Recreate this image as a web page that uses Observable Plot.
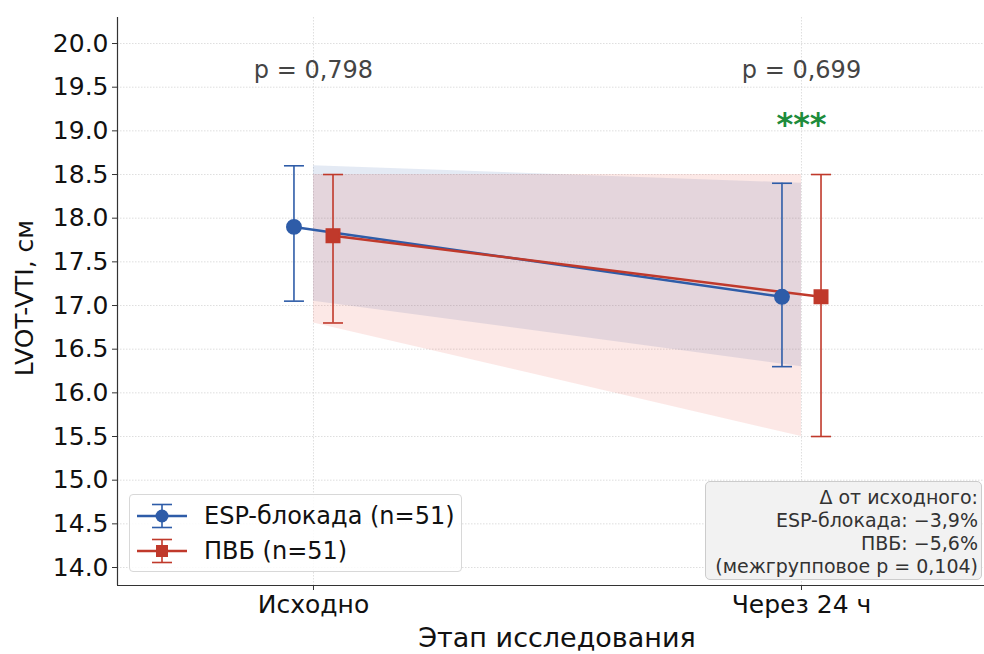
<!DOCTYPE html>
<html><head><meta charset="utf-8">
<script src="https://cdn.jsdelivr.net/npm/d3@7"></script>
<script src="https://cdn.jsdelivr.net/npm/@observablehq/plot@0.6"></script>
<style>
body{margin:0;background:#fff;font-family:"DejaVu Sans",sans-serif;}
#wrap{position:relative;width:984px;height:654px;overflow:hidden;}
#legend{position:absolute;left:129px;top:494px;width:333px;height:78px;border:1px solid #d8d8d8;border-radius:4px;background:rgba(255,255,255,0.85);box-sizing:border-box;}
.lrow{position:absolute;left:7px;height:30px;display:flex;align-items:center;font-size:24px;color:#111;white-space:nowrap;}
.lrow svg{margin-right:17px;}
#delta{position:absolute;left:705px;top:481px;width:277px;height:99px;background:#f2f2f2;border:1px solid #ccc;border-radius:5px;box-sizing:border-box;text-align:right;font-size:19px;line-height:23px;color:#333;padding:4px 3px 0 0;white-space:nowrap;}
</style></head><body><div id="wrap"></div>
<script>
const stages = ["Исходно", "Через 24 ч"];
const groups = ["ESP-блокада (n=51)", "ПВБ (n=51)"];
const espMean = [17.9, 17.1];
const espLo = [17.05, 16.3];
const espHi = [18.6, 18.4];
const pvbMean = [17.8, 17.1];
const pvbLo = [16.8, 15.5];
const pvbHi = [18.5, 18.5];
const pValues = ["p = 0,798", "p = 0,699"];
const pY = 19.69;
const sigMarks = ["", "***"];
const sigY = 19.07;
const yTicks = d3.range(14, 20.001, 0.5);
const deltaLines = ["Δ от исходного:", "ESP-блокада: −3,9%", "ПВБ: −5,6%", "(межгрупповое p = 0,104)"];
const xTitle = "Этап исследования";
const yTitle = "LVOT-VTI, см";

const BLUE = "#2e5ca8", RED = "#c0392b", GREEN = "#1e8c3c";
const off = 0.04;
const cap = 10 / 488;

const rows = (mean, lo, hi, g, o) => stages.map((s, i) => ({i, x: i + o, mean: mean[i], lo: lo[i], hi: hi[i], g}));
const esp = rows(espMean, espLo, espHi, groups[0], -off);
const pvb = rows(pvbMean, pvbLo, pvbHi, groups[1], off);

const W = 984, H = 654, mL = 117, mT = 17, mB = 69;
const xDom = [-0.4016, 1.375], yDom = [13.794, 20.298];

const grid = {stroke: "#d6d6d6", strokeWidth: 0.8, strokeDasharray: "1.5,1.5"};
const errMarks = (d, c) => [
  Plot.ruleX(d, {x: "x", y1: "lo", y2: "hi", stroke: c, strokeWidth: 1.6}),
  Plot.link(d, {x1: r => r.x - cap, x2: r => r.x + cap, y1: "hi", y2: "hi", stroke: c, strokeWidth: 1.6}),
  Plot.link(d, {x1: r => r.x - cap, x2: r => r.x + cap, y1: "lo", y2: "lo", stroke: c, strokeWidth: 1.6})
];

const plot = Plot.plot({
  width: W, height: H, marginLeft: mL, marginRight: 0, marginTop: mT, marginBottom: mB,
  style: {fontFamily: '"DejaVu Sans", sans-serif', background: "transparent", color: "#111"},
  x: {domain: xDom},
  y: {domain: yDom},
  marks: [
    Plot.ruleY(yTicks, grid),
    Plot.ruleX([0, 1], grid),
    Plot.area(esp, {x1: "i", y1: "lo", y2: "hi", fill: BLUE, fillOpacity: 0.13}),
    Plot.area(pvb, {x1: "i", y1: "lo", y2: "hi", fill: "#e74c3c", fillOpacity: 0.13}),
    ...errMarks(esp, BLUE),
    ...errMarks(pvb, RED),
    Plot.line(esp, {x: "x", y: "mean", stroke: BLUE, strokeWidth: 2.5}),
    Plot.line(pvb, {x: "x", y: "mean", stroke: RED, strokeWidth: 2.5}),
    Plot.dot(esp, {x: "x", y: "mean", r: 7.2, fill: BLUE, stroke: BLUE, symbol: "circle"}),
    Plot.dot(pvb, {x: "x", y: "mean", r: 7.6, fill: RED, stroke: RED, symbol: "square"}),
    Plot.text(stages.map((s, i) => i), {x: d => d, y: pY, text: d => pValues[d], fontSize: 24, fill: "#444"}),
    Plot.text(stages.map((s, i) => i), {x: d => d, y: sigY, text: d => sigMarks[d], fontSize: 32, fontWeight: "bold", fill: GREEN}),
    Plot.ruleX([xDom[0]], {stroke: "#333", strokeWidth: 1.2}),
    Plot.ruleY([yDom[0]], {stroke: "#333", strokeWidth: 1.2}),
    Plot.axisY({ticks: yTicks, tickFormat: d3.format(".1f"), fontSize: 25, tickSize: 5, tickPadding: 4, label: null, stroke: "#333"}),
    Plot.axisX({ticks: [0, 1], tickFormat: i => stages[i], fontSize: 25, tickSize: 5, tickPadding: 5, label: null, stroke: "#333"})
  ]
});
const wrap = document.getElementById("wrap");
wrap.appendChild(plot);
const svg = d3.select(plot);
svg.append("text").attr("x", 557).attr("y", 647).attr("text-anchor", "middle")
  .attr("font-size", 27).attr("fill", "#111").text(xTitle);
svg.append("text").attr("transform", "translate(33,298) rotate(-90)").attr("text-anchor", "middle")
  .attr("font-size", 25).attr("fill", "#111").text(yTitle);

// legend
const leg = document.createElement("div");
leg.id = "legend";
const markerSvg = (c, sym) => `<svg width="50" height="30" viewBox="0 0 50 30">
  <line x1="0" y1="15" x2="50" y2="15" stroke="${c}" stroke-width="2.5"/>
  <line x1="25" y1="3.5" x2="25" y2="26.5" stroke="${c}" stroke-width="1.6"/>
  <line x1="15" y1="3.5" x2="35" y2="3.5" stroke="${c}" stroke-width="1.6"/>
  <line x1="15" y1="26.5" x2="35" y2="26.5" stroke="${c}" stroke-width="1.6"/>
  ${sym === "circle" ? `<circle cx="25" cy="15" r="6.5" fill="${c}"/>` : `<rect x="19" y="9" width="12" height="12" fill="${c}"/>`}
</svg>`;
[[BLUE, "circle", 6], [RED, "square", 41]].forEach(([c, s, top], k) => {
  const r = document.createElement("div");
  r.className = "lrow";
  r.style.top = top + "px";
  r.innerHTML = markerSvg(c, s) + `<span>${groups[k]}</span>`;
  leg.appendChild(r);
});
wrap.appendChild(leg);

const box = document.createElement("div");
box.id = "delta";
box.innerHTML = deltaLines.join("<br>");
wrap.appendChild(box);
</script>
</body></html>
